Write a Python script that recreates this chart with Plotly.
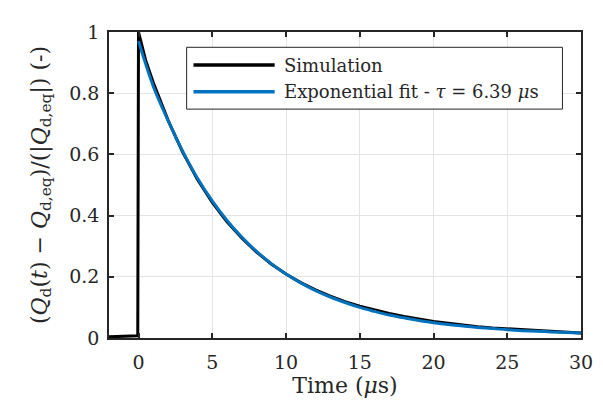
import plotly.graph_objects as go

# ---- data ----
sim_t = [-2, -1, -0.05, 0, 0.5, 1, 2, 3, 4, 5, 6, 7, 8, 9, 10, 11, 12, 13, 14, 15,
         16, 17, 18, 19, 20, 21, 22, 23, 24, 25, 26, 27, 28, 29, 30]
sim_v = [0.004, 0.005, 0.007, 1.000, 0.905, 0.835, 0.712, 0.607, 0.518, 0.443, 0.380,
         0.327, 0.281, 0.242, 0.209, 0.181, 0.157, 0.137, 0.119, 0.104, 0.091, 0.080,
         0.070, 0.061, 0.054, 0.048, 0.042, 0.037, 0.033, 0.030, 0.026, 0.023, 0.021,
         0.018, 0.016]

fit_t = [0, 1, 2, 3, 4, 5, 6, 7, 8, 9, 10, 11, 12, 13, 14, 15, 16, 17, 18, 19, 20,
         21, 22, 23, 24, 25, 26, 27, 28, 29, 30]
fit_v = [0.970, 0.823, 0.711, 0.610, 0.522, 0.448, 0.384, 0.330, 0.283, 0.243, 0.209,
         0.180, 0.155, 0.134, 0.116, 0.100, 0.087, 0.075, 0.066, 0.057, 0.050, 0.044,
         0.039, 0.034, 0.031, 0.027, 0.024, 0.022, 0.020, 0.018, 0.016]

series_names = ["Simulation", "Exponential fit - <i>τ</i> = 6.39 <i>μ</i>s"]
series_colors = ["#000000", "#0072BD"]

x_ticks = [0, 5, 10, 15, 20, 25, 30]
x_ticklabels = ["0", "5", "10", "15", "20", "25", "30"]
y_ticks = [0, 0.2, 0.4, 0.6, 0.8, 1]
y_ticklabels = ["0", "0.2", "0.4", "0.6", "0.8", "1"]

FONT = "DejaVu Serif"
AX = "#262626"

fig = go.Figure()
fig.add_trace(go.Scatter(x=sim_t, y=sim_v, mode="lines", name=series_names[0],
                         line=dict(color=series_colors[0], width=3), showlegend=False))
fig.add_trace(go.Scatter(x=fit_t, y=fit_v, mode="lines", name=series_names[1],
                         line=dict(color=series_colors[1], width=3, shape="spline"),
                         showlegend=False))

# manual legend (MATLAB style, long line samples)
fig.add_shape(type="rect", xref="paper", yref="paper", x0=0.1645, x1=0.9607, y0=0.748, y1=0.950,
              line=dict(color=AX, width=1), fillcolor="white", layer="above")
rows_y = [0.892, 0.805]
for name, col, yy in zip(series_names, series_colors, rows_y):
    fig.add_shape(type="line", xref="paper", yref="paper", x0=0.179, x1=0.351, y0=yy, y1=yy,
                  line=dict(color=col, width=3.5), layer="above")
    fig.add_annotation(xref="paper", yref="paper", x=0.3656, y=yy, text=name, showarrow=False,
                       xanchor="left", yanchor="middle", font=dict(family=FONT, size=18, color=AX))

fig.update_layout(
    width=603, height=406,
    margin=dict(l=109, r=22, t=32, b=68, autoexpand=False),
    paper_bgcolor="white", plot_bgcolor="white",
    font=dict(family=FONT, size=19, color=AX),
)
fig.update_xaxes(range=[-2, 30], tickvals=x_ticks, ticktext=x_ticklabels,
                 showline=True, linecolor=AX, linewidth=1.5, mirror="ticks",
                 ticks="inside", ticklen=5, tickcolor=AX, tickwidth=1.5,
                 ticklabelstandoff=6,
                 showgrid=True, gridcolor="#e3e3e3", gridwidth=1, zeroline=False,
                 title=dict(text="Time (<i>μ</i>s)", standoff=3, font=dict(size=22)))
fig.update_yaxes(range=[0, 1], tickvals=y_ticks, ticktext=y_ticklabels,
                 showline=True, linecolor=AX, linewidth=1.5, mirror="ticks",
                 ticks="inside", ticklen=5, tickcolor=AX, tickwidth=1.5,
                 ticklabelstandoff=4,
                 showgrid=True, gridcolor="#e3e3e3", gridwidth=1, zeroline=False,
                 title=dict(text="(<i>Q</i><sub>d</sub>(<i>t</i>) − <i>Q</i><sub>d,eq</sub>)/(|<i>Q</i><sub>d,eq</sub>|) (-)",
                            standoff=16, font=dict(size=22)))

fig.write_html("out.html", config={"displayModeBar": False},
               post_script="document.body.style.margin='0';")
